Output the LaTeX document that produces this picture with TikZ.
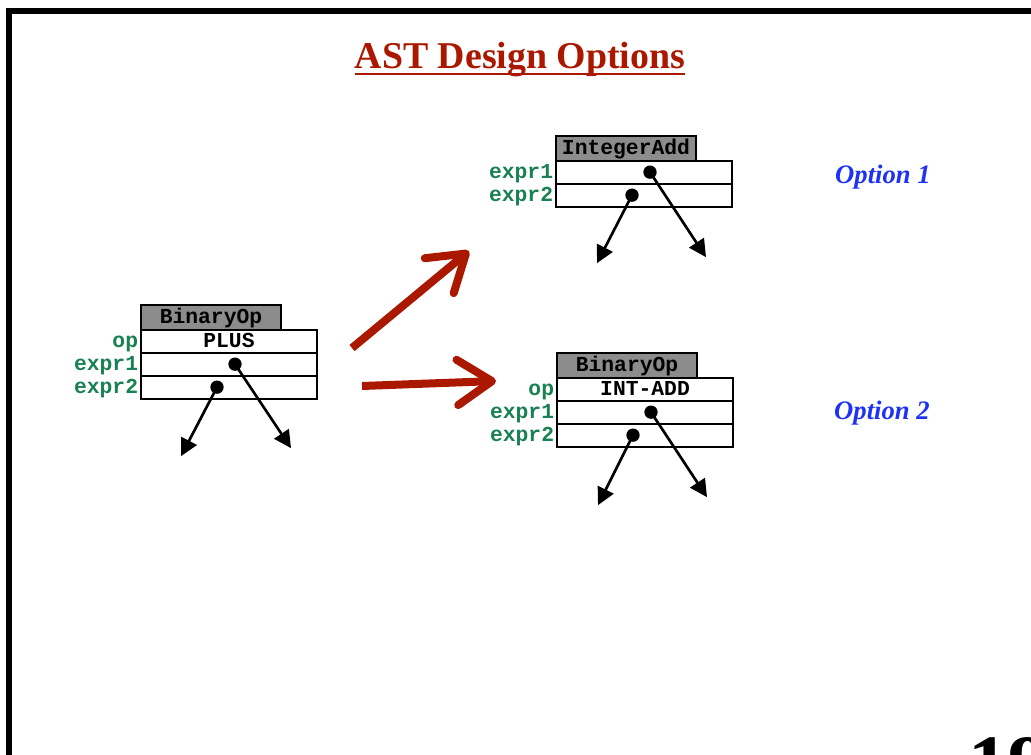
\documentclass[tikz,border=0pt]{standalone}
\usepackage{fontspec}
\setmainfont{Liberation Serif}
\setmonofont{Liberation Mono}
\usepackage{xcolor}
\usetikzlibrary{arrows.meta,positioning}
\definecolor{slidered}{RGB}{170,24,0}
\definecolor{fieldgreen}{RGB}{24,128,82}
\definecolor{optblue}{RGB}{30,50,245}
\definecolor{hdrgray}{RGB}{140,140,140}
\tikzset{>={Triangle[length=13pt,width=13pt]}}
\tikzset{mono/.style={font=\ttfamily\bfseries\fontsize{16}{16}\selectfont,text height=9.2pt,text depth=0pt},
         hdr node/.style={mono,draw,line width=1.5pt,fill=hdrgray,minimum width=105pt,minimum height=18.5pt,inner sep=0pt,outer sep=0pt,anchor=north west},
         field node/.style={mono,draw,line width=1.5pt,fill=white,minimum width=132pt,minimum height=17.25pt,inner sep=0pt,outer sep=0pt,anchor=north west},
         lbl node/.style={mono,text=fieldgreen,anchor=east,inner sep=2pt},
         dot node/.style={circle,fill=black,minimum size=10pt,inner sep=0pt},
         ptr/.style={->,line width=2pt},
         big arrow/.style={slidered,line width=6pt,-{Straight Barb[length=26pt,width=34pt,round]}},
         opt node/.style={text=optblue,font=\bfseries\itshape\fontsize{20}{20}\selectfont}
            }

\begin{document}
\begin{tikzpicture}[x=0.75pt,y=-0.75pt]

    \useasboundingbox (0,0) rectangle (1031,755);
    \clip (0,0) rectangle (1031,755);

    % slide frame and title
    \draw[line width=4.5pt] (9,800) |- (1100,11);
    \node[font=\bfseries\fontsize{28.4}{28.4}\selectfont,text=slidered,inner sep=0pt,anchor=base] (title) at (520,69) {AST Design Options};
    \draw[slidered,line width=1.5pt] ([yshift=-4pt]title.base west) -- ([yshift=-4pt]title.base east);

    % original BinaryOp
    \node[hdr node] (lhdr) at (141,305) {BinaryOp};
    \node[field node] (lop) at (lhdr.south west) {PLUS};
    \node[field node] (le1) at (lop.south west) {};
    \node[field node] (le2) at (le1.south west) {};
    \node[lbl node] (lopl) at (lop.west) {op};
    \node[lbl node] (le1l) at (le1.west) {expr1};
    \node[lbl node] (le2l) at (le2.west) {expr2};
    \node[dot node] (ld1) at ([xshift=4.5pt]le1.center) {};
    \node[dot node] (ld2) at ([xshift=-9pt]le2.center) {};
    \coordinate (la1) at ([shift={(56,84)}]ld1.center);
    \coordinate (la2) at ([shift={(-36,69)}]ld2.center);

    % option 1: IntegerAdd
    \node[hdr node] (thdr) at (556,136) {IntegerAdd};
    \node[field node] (te1) at (thdr.south west) {};
    \node[field node] (te2) at (te1.south west) {};
    \node[lbl node] (te1l) at (te1.west) {expr1};
    \node[lbl node] (te2l) at (te2.west) {expr2};
    \node[dot node] (td1) at ([xshift=4.5pt]te1.center) {};
    \node[dot node] (td2) at ([xshift=-9pt]te2.center) {};
    \coordinate (ta1) at ([shift={(56,85)}]td1.center);
    \coordinate (ta2) at ([shift={(-35,68)}]td2.center);

    % option 2: BinaryOp with INT-ADD
    \node[hdr node] (bhdr) at (557,353) {BinaryOp};
    \node[field node] (bop) at (bhdr.south west) {INT-ADD};
    \node[field node] (be1) at (bop.south west) {};
    \node[field node] (be2) at (be1.south west) {};
    \node[lbl node] (bopl) at (bop.west) {op};
    \node[lbl node] (be1l) at (be1.west) {expr1};
    \node[lbl node] (be2l) at (be2.west) {expr2};
    \node[dot node] (bd1) at ([xshift=4.5pt]be1.center) {};
    \node[dot node] (bd2) at ([xshift=-9pt]be2.center) {};
    \coordinate (ba1) at ([shift={(56,85)}]bd1.center);
    \coordinate (ba2) at ([shift={(-35,70)}]bd2.center);

    \path[ptr]
    (ld1.center) edge (la1)
    (ld2.center) edge (la2)
    (td1.center) edge (ta1)
    (td2.center) edge (ta2)
    (bd1.center) edge (ba1)
    (bd2.center) edge (ba2);

    % the two choices
    \coordinate (tail1) at (352,348);
    \coordinate (tip1) at (469,251);
    \coordinate (tail2) at (362,386);
    \coordinate (tip2) at (496,381);
    \draw[big arrow] (tail1) -- (tip1);
    \draw[big arrow] (tail2) -- (tip2);

    \node[opt node] (opt1) at (883,177) {Option 1};
    \node[opt node] (opt2) at (882,413) {Option 2};

    \node[font=\bfseries\fontsize{60}{60}\selectfont,inner sep=0pt,anchor=north west] (pagenum) at (968,737) {19};

\end{tikzpicture}
\end{document}
